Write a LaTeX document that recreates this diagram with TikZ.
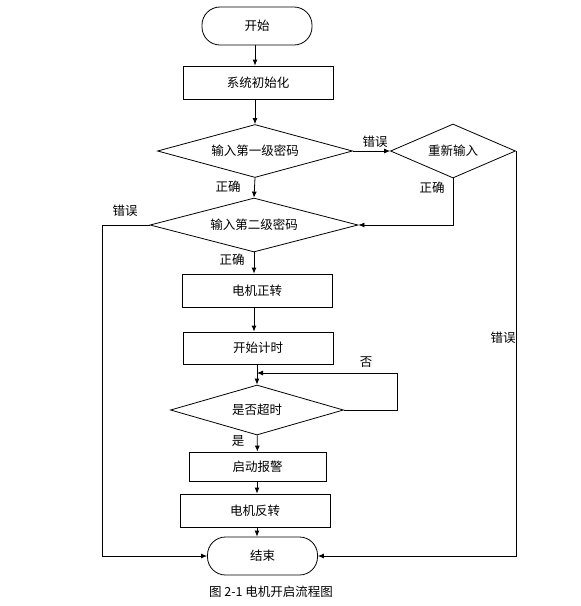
\documentclass[tikz,border=0pt]{standalone}
\usepackage{fontspec}
\setmainfont{Noto Sans CJK SC}
\usetikzlibrary{shapes.geometric,arrows.meta}

\begin{document}
\begin{tikzpicture}[x=1pt, y=-1pt, line width=0.8pt, font=\fontsize{12.5}{14}\selectfont,
    box/.style={draw, rectangle, inner sep=0pt},
    term/.style={draw, rectangle, rounded corners=18pt, inner sep=0pt, minimum width=110pt, minimum height=38pt},
    test/.style={draw, diamond, inner sep=0pt},
    arr/.style={-{Latex[length=6pt,width=5pt]}}]
  \useasboundingbox (0,0) rectangle (581,606);

  % boxes
  \node[term] (start) at (257,26) {开始};
  \node[box, minimum width=150pt, minimum height=33pt] (init) at (258,82.5) {系统初始化};
  \node[test, aspect=3.68, minimum width=195pt, minimum height=53pt] (pw1) at (255,151) {输入第一级密码};
  \node[test, aspect=2.3, minimum width=125pt, minimum height=54pt] (retry) at (453,151) {重新输入};
  \node[test, aspect=3.85, minimum width=208pt, minimum height=54pt] (pw2) at (254,225) {输入第二级密码};
  \node[box, minimum width=150pt, minimum height=33pt] (fwd) at (257,290.5) {电机正转};
  \node[box, minimum width=150pt, minimum height=32pt] (timer) at (258,348) {开始计时};
  \node[test, aspect=3.46, minimum width=173pt, minimum height=50pt] (chk) at (257,410) {是否超时};
  \node[box, minimum width=137pt, minimum height=29pt] (alarm) at (257.5,466.5) {启动报警};
  \node[box, minimum width=150pt, minimum height=33pt] (rev) at (255,510.5) {电机反转};
  \node[term] (end) at (262.5,556) {结束};

  % labels
  \node (l1) at (375,142) {错误};
  \node (l2) at (228,187) {正确};
  \node (l3) at (432,188) {正确};
  \node (l4) at (125,211) {错误};
  \node (l5) at (232,260) {正确};
  \node (l6) at (503,338) {错误};
  \node (l7) at (366,362) {否};
  \node (l8) at (238,441) {是};

  % connectors
  \draw[arr] (start.south -| pw1.north) -- (pw1.north |- init.north);
  \draw[arr] (init.south -| pw1.north) -- (pw1.north);
  \draw[arr] (pw1.east) -- (retry.west);
  \draw[arr] (retry.south) |- (pw2.east);
  \draw[arr] (retry.east) |- (end.east);
  \draw[arr] (pw1.south) -- (pw2.north);
  \coordinate (back) at (102,225);
  \draw[arr] (pw2.west) -- (back) |- (end.west);
  \draw[arr] (pw2.south) -- (pw2.south |- fwd.north);
  \draw[arr] (fwd.south -| pw2.south) -- (pw2.south |- timer.north);
  \draw[arr] (timer.south -| chk.north) -- (chk.north);
  \coordinate (loop) at (397,373);
  \coordinate (join) at (257,373);
  \draw[arr] (chk.east) -| (loop) -- (join);
  \draw[arr] (chk) -- (alarm);
  \draw[arr] (alarm.south -| chk.south) -- (chk.south |- rev.north);
  \draw[arr] (rev.south -| chk.south) -- (chk.south |- end.north);

  \node[font=\fontsize{12.5}{14}\selectfont] (cap) at (271,592) {图 2-1 电机开启流程图};
\end{tikzpicture}
\end{document}
